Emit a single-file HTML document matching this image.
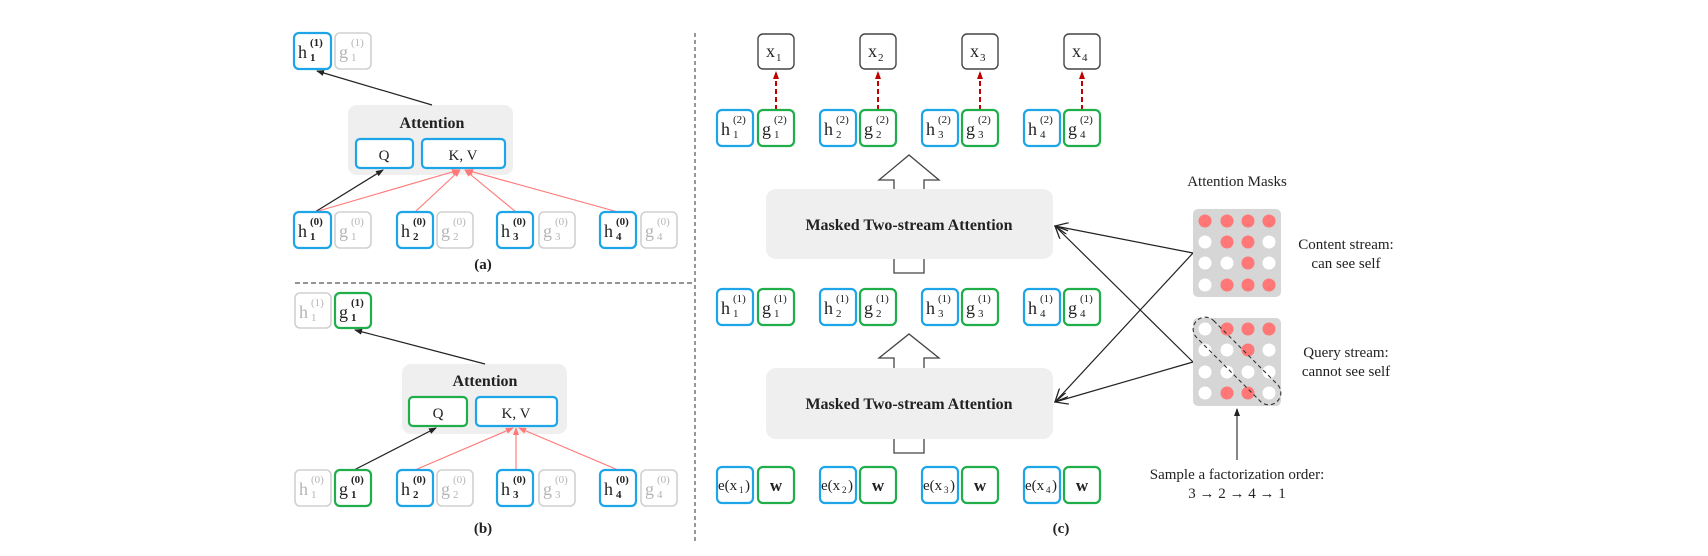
<!DOCTYPE html>
<html><head><meta charset="utf-8"><style>
html,body{margin:0;padding:0;background:#fff;}
svg{display:block;}
text{font-family:"Liberation Serif","DejaVu Serif",serif;fill:#222;}
.b{fill:#fff;stroke:#1ea5e8;stroke-width:2.2;}
.gr{fill:#fff;stroke:#1fae4a;stroke-width:2.2;}
.gy{fill:#fff;stroke:#d0d0d0;stroke-width:1.6;}
.k{fill:#fff;stroke:#444;stroke-width:1.4;}
.m{font-size:18px;}
.s{font-size:11px;}
.g text{fill:#b5b5b5;}
.bold{font-weight:bold;}
</style></head><body>
<svg width="1708" height="556" viewBox="0 0 1708 556" xmlns="http://www.w3.org/2000/svg">
<defs>
<marker id="ak" markerWidth="8" markerHeight="8" refX="7" refY="4" orient="auto" markerUnits="userSpaceOnUse"><path d="M0,1 L8,4 L0,7 z" fill="#222"/></marker>
<marker id="ar" markerWidth="8" markerHeight="8" refX="7" refY="4" orient="auto" markerUnits="userSpaceOnUse"><path d="M0,1 L8,4 L0,7 z" fill="#ff7777"/></marker>
<marker id="ad" markerWidth="8" markerHeight="8" refX="7" refY="4" orient="auto" markerUnits="userSpaceOnUse"><path d="M0,1 L8,4 L0,7 z" fill="#c00000"/></marker>
<marker id="ab" markerWidth="14" markerHeight="12" refX="13" refY="6" orient="auto" markerUnits="userSpaceOnUse"><path d="M0,0 L13,6 L0,12" fill="none" stroke="#222" stroke-width="1.3"/></marker>
</defs>

<!-- dividers -->
<line x1="695" y1="33" x2="695" y2="543" stroke="#777" stroke-width="1.5" stroke-dasharray="4,3"/>
<line x1="295" y1="283" x2="695" y2="283" stroke="#555" stroke-width="1.3" stroke-dasharray="5,3"/>

<!-- ===== Panel (a) ===== -->
<rect x="348" y="105" width="165" height="70" rx="9" fill="#efefef"/>
<text x="432" y="128" text-anchor="middle" font-size="16" class="bold">Attention</text>
<rect x="356" y="139" width="57" height="29" rx="4" class="b"/>
<text x="384" y="160" text-anchor="middle" font-size="15">Q</text>
<rect x="422" y="139" width="83" height="29" rx="4" class="b"/>
<text x="463" y="160" text-anchor="middle" font-size="15">K, V</text>

<line x1="432" y1="105" x2="317" y2="71" stroke="#222" stroke-width="1.2" marker-end="url(#ak)"/>
<line x1="315" y1="212" x2="383" y2="170" stroke="#222" stroke-width="1.2" marker-end="url(#ak)"/>
<line x1="315" y1="212" x2="459" y2="170" stroke="#ff7777" stroke-width="1.1" marker-end="url(#ar)"/>
<line x1="415" y1="212" x2="460" y2="170" stroke="#ff7777" stroke-width="1.1" marker-end="url(#ar)"/>
<line x1="516" y1="212" x2="465" y2="170" stroke="#ff7777" stroke-width="1.1" marker-end="url(#ar)"/>
<line x1="618" y1="212" x2="466" y2="170" stroke="#ff7777" stroke-width="1.1" marker-end="url(#ar)"/>

<!-- top (a) -->
<rect x="294" y="33" width="37" height="36" rx="5" class="b"/>
<text x="298" y="58" class="m">h</text><text x="310" y="46" class="s bold">(1)</text><text x="310" y="61" class="s bold">1</text>
<g class="g"><rect x="335" y="33" width="36" height="36" rx="5" class="gy"/>
<text x="339" y="58" class="m">g</text><text x="351" y="46" class="s">(1)</text><text x="351" y="61" class="s">1</text></g>

<!-- bottom (a) -->
<rect x="294" y="212" width="37" height="36" rx="5" class="b"/>
<text x="298" y="237" class="m">h</text><text x="310" y="225" class="s bold">(0)</text><text x="310" y="240" class="s bold">1</text>
<g class="g"><rect x="335" y="212" width="36" height="36" rx="5" class="gy"/>
<text x="339" y="237" class="m">g</text><text x="351" y="225" class="s">(0)</text><text x="351" y="240" class="s">1</text></g>
<rect x="397" y="212" width="36" height="36" rx="5" class="b"/>
<text x="401" y="237" class="m">h</text><text x="413" y="225" class="s bold">(0)</text><text x="413" y="240" class="s bold">2</text>
<g class="g"><rect x="437" y="212" width="36" height="36" rx="5" class="gy"/>
<text x="441" y="237" class="m">g</text><text x="453" y="225" class="s">(0)</text><text x="453" y="240" class="s">2</text></g>
<rect x="497" y="212" width="36" height="36" rx="5" class="b"/>
<text x="501" y="237" class="m">h</text><text x="513" y="225" class="s bold">(0)</text><text x="513" y="240" class="s bold">3</text>
<g class="g"><rect x="539" y="212" width="36" height="36" rx="5" class="gy"/>
<text x="543" y="237" class="m">g</text><text x="555" y="225" class="s">(0)</text><text x="555" y="240" class="s">3</text></g>
<rect x="600" y="212" width="36" height="36" rx="5" class="b"/>
<text x="604" y="237" class="m">h</text><text x="616" y="225" class="s bold">(0)</text><text x="616" y="240" class="s bold">4</text>
<g class="g"><rect x="641" y="212" width="36" height="36" rx="5" class="gy"/>
<text x="645" y="237" class="m">g</text><text x="657" y="225" class="s">(0)</text><text x="657" y="240" class="s">4</text></g>
<text x="483" y="269" text-anchor="middle" font-size="15" class="bold">(a)</text>

<!-- ===== Panel (b) ===== -->
<rect x="402" y="364" width="165" height="70" rx="9" fill="#efefef"/>
<text x="485" y="386" text-anchor="middle" font-size="16" class="bold">Attention</text>
<rect x="409" y="397" width="58" height="29" rx="4" class="gr"/>
<text x="438" y="418" text-anchor="middle" font-size="15">Q</text>
<rect x="476" y="397" width="81" height="29" rx="4" class="b"/>
<text x="516" y="418" text-anchor="middle" font-size="15">K, V</text>

<line x1="485" y1="364" x2="355" y2="330" stroke="#222" stroke-width="1.2" marker-end="url(#ak)"/>
<line x1="354" y1="470" x2="436" y2="428" stroke="#222" stroke-width="1.2" marker-end="url(#ak)"/>
<line x1="415" y1="470" x2="513" y2="428" stroke="#ff7777" stroke-width="1.1" marker-end="url(#ar)"/>
<line x1="516" y1="470" x2="516" y2="428" stroke="#ff7777" stroke-width="1.1" marker-end="url(#ar)"/>
<line x1="618" y1="470" x2="519" y2="428" stroke="#ff7777" stroke-width="1.1" marker-end="url(#ar)"/>

<g class="g"><rect x="295" y="293" width="36" height="35" rx="5" class="gy"/>
<text x="299" y="318" class="m">h</text><text x="311" y="306" class="s">(1)</text><text x="311" y="321" class="s">1</text></g>
<rect x="335" y="293" width="36" height="35" rx="5" class="gr"/>
<text x="339" y="318" class="m">g</text><text x="351" y="306" class="s bold">(1)</text><text x="351" y="321" class="s bold">1</text>

<g class="g"><rect x="295" y="470" width="36" height="36" rx="5" class="gy"/>
<text x="299" y="495" class="m">h</text><text x="311" y="483" class="s">(0)</text><text x="311" y="498" class="s">1</text></g>
<rect x="335" y="470" width="36" height="36" rx="5" class="gr"/>
<text x="339" y="495" class="m">g</text><text x="351" y="483" class="s bold">(0)</text><text x="351" y="498" class="s bold">1</text>
<rect x="397" y="470" width="36" height="36" rx="5" class="b"/>
<text x="401" y="495" class="m">h</text><text x="413" y="483" class="s bold">(0)</text><text x="413" y="498" class="s bold">2</text>
<g class="g"><rect x="437" y="470" width="36" height="36" rx="5" class="gy"/>
<text x="441" y="495" class="m">g</text><text x="453" y="483" class="s">(0)</text><text x="453" y="498" class="s">2</text></g>
<rect x="497" y="470" width="36" height="36" rx="5" class="b"/>
<text x="501" y="495" class="m">h</text><text x="513" y="483" class="s bold">(0)</text><text x="513" y="498" class="s bold">3</text>
<g class="g"><rect x="539" y="470" width="36" height="36" rx="5" class="gy"/>
<text x="543" y="495" class="m">g</text><text x="555" y="483" class="s">(0)</text><text x="555" y="498" class="s">3</text></g>
<rect x="600" y="470" width="36" height="36" rx="5" class="b"/>
<text x="604" y="495" class="m">h</text><text x="616" y="483" class="s bold">(0)</text><text x="616" y="498" class="s bold">4</text>
<g class="g"><rect x="641" y="470" width="36" height="36" rx="5" class="gy"/>
<text x="645" y="495" class="m">g</text><text x="657" y="483" class="s">(0)</text><text x="657" y="498" class="s">4</text></g>
<text x="483" y="533" text-anchor="middle" font-size="15" class="bold">(b)</text>

<!-- ===== Panel (c) ===== -->
<!-- x boxes -->
<rect x="758" y="34" width="36" height="35" rx="5" class="k"/><text x="766" y="57" class="m">x</text><text x="776" y="61" class="s">1</text>
<rect x="860" y="34" width="36" height="35" rx="5" class="k"/><text x="868" y="57" class="m">x</text><text x="878" y="61" class="s">2</text>
<rect x="962" y="34" width="36" height="35" rx="5" class="k"/><text x="970" y="57" class="m">x</text><text x="980" y="61" class="s">3</text>
<rect x="1064" y="34" width="36" height="35" rx="5" class="k"/><text x="1072" y="57" class="m">x</text><text x="1082" y="61" class="s">4</text>
<g stroke="#c00000" stroke-width="2" stroke-dasharray="5,3">
<line x1="776" y1="110" x2="776" y2="72" marker-end="url(#ad)"/>
<line x1="878" y1="110" x2="878" y2="72" marker-end="url(#ad)"/>
<line x1="980" y1="110" x2="980" y2="72" marker-end="url(#ad)"/>
<line x1="1082" y1="110" x2="1082" y2="72" marker-end="url(#ad)"/>
</g>

<!-- (2) row -->
<rect x="717" y="110" width="36" height="36" rx="5" class="b"/><text x="721" y="135" class="m">h</text><text x="733" y="123" class="s">(2)</text><text x="733" y="138" class="s">1</text>
<rect x="758" y="110" width="36" height="36" rx="5" class="gr"/><text x="762" y="135" class="m">g</text><text x="774" y="123" class="s">(2)</text><text x="774" y="138" class="s">1</text>
<rect x="820" y="110" width="36" height="36" rx="5" class="b"/><text x="824" y="135" class="m">h</text><text x="836" y="123" class="s">(2)</text><text x="836" y="138" class="s">2</text>
<rect x="860" y="110" width="36" height="36" rx="5" class="gr"/><text x="864" y="135" class="m">g</text><text x="876" y="123" class="s">(2)</text><text x="876" y="138" class="s">2</text>
<rect x="922" y="110" width="36" height="36" rx="5" class="b"/><text x="926" y="135" class="m">h</text><text x="938" y="123" class="s">(2)</text><text x="938" y="138" class="s">3</text>
<rect x="962" y="110" width="36" height="36" rx="5" class="gr"/><text x="966" y="135" class="m">g</text><text x="978" y="123" class="s">(2)</text><text x="978" y="138" class="s">3</text>
<rect x="1024" y="110" width="36" height="36" rx="5" class="b"/><text x="1028" y="135" class="m">h</text><text x="1040" y="123" class="s">(2)</text><text x="1040" y="138" class="s">4</text>
<rect x="1064" y="110" width="36" height="36" rx="5" class="gr"/><text x="1068" y="135" class="m">g</text><text x="1080" y="123" class="s">(2)</text><text x="1080" y="138" class="s">4</text>

<!-- block arrow 1 -->
<path d="M894,273 L894,180 L879,180 L909,155 L939,180 L924,180 L924,273 Z" fill="#fff" stroke="#444" stroke-width="1.3"/>
<rect x="766" y="189" width="287" height="70" rx="10" fill="#efefef"/>
<text x="909" y="230" text-anchor="middle" font-size="16" class="bold">Masked Two-stream Attention</text>

<!-- (1) row -->
<rect x="717" y="289" width="36" height="36" rx="5" class="b"/><text x="721" y="314" class="m">h</text><text x="733" y="302" class="s">(1)</text><text x="733" y="317" class="s">1</text>
<rect x="758" y="289" width="36" height="36" rx="5" class="gr"/><text x="762" y="314" class="m">g</text><text x="774" y="302" class="s">(1)</text><text x="774" y="317" class="s">1</text>
<rect x="820" y="289" width="36" height="36" rx="5" class="b"/><text x="824" y="314" class="m">h</text><text x="836" y="302" class="s">(1)</text><text x="836" y="317" class="s">2</text>
<rect x="860" y="289" width="36" height="36" rx="5" class="gr"/><text x="864" y="314" class="m">g</text><text x="876" y="302" class="s">(1)</text><text x="876" y="317" class="s">2</text>
<rect x="922" y="289" width="36" height="36" rx="5" class="b"/><text x="926" y="314" class="m">h</text><text x="938" y="302" class="s">(1)</text><text x="938" y="317" class="s">3</text>
<rect x="962" y="289" width="36" height="36" rx="5" class="gr"/><text x="966" y="314" class="m">g</text><text x="978" y="302" class="s">(1)</text><text x="978" y="317" class="s">3</text>
<rect x="1024" y="289" width="36" height="36" rx="5" class="b"/><text x="1028" y="314" class="m">h</text><text x="1040" y="302" class="s">(1)</text><text x="1040" y="317" class="s">4</text>
<rect x="1064" y="289" width="36" height="36" rx="5" class="gr"/><text x="1068" y="314" class="m">g</text><text x="1080" y="302" class="s">(1)</text><text x="1080" y="317" class="s">4</text>

<!-- block arrow 2 -->
<path d="M894,453 L894,358 L879,358 L909,334 L939,358 L924,358 L924,453 Z" fill="#fff" stroke="#444" stroke-width="1.3"/>
<rect x="766" y="368" width="287" height="71" rx="10" fill="#efefef"/>
<text x="909" y="409" text-anchor="middle" font-size="16" class="bold">Masked Two-stream Attention</text>

<!-- e row -->
<rect x="717" y="467" width="36" height="36" rx="5" class="b"/><text x="718" y="490" font-size="15">e(x</text><text x="739" y="493" font-size="9">1</text><text x="745" y="490" font-size="15">)</text>
<rect x="758" y="467" width="36" height="36" rx="5" class="gr"/><text x="776" y="491" text-anchor="middle" font-size="17" class="bold">w</text>
<rect x="820" y="467" width="36" height="36" rx="5" class="b"/><text x="821" y="490" font-size="15">e(x</text><text x="842" y="493" font-size="9">2</text><text x="848" y="490" font-size="15">)</text>
<rect x="860" y="467" width="36" height="36" rx="5" class="gr"/><text x="878" y="491" text-anchor="middle" font-size="17" class="bold">w</text>
<rect x="922" y="467" width="36" height="36" rx="5" class="b"/><text x="923" y="490" font-size="15">e(x</text><text x="944" y="493" font-size="9">3</text><text x="950" y="490" font-size="15">)</text>
<rect x="962" y="467" width="36" height="36" rx="5" class="gr"/><text x="980" y="491" text-anchor="middle" font-size="17" class="bold">w</text>
<rect x="1024" y="467" width="36" height="36" rx="5" class="b"/><text x="1025" y="490" font-size="15">e(x</text><text x="1046" y="493" font-size="9">4</text><text x="1052" y="490" font-size="15">)</text>
<rect x="1064" y="467" width="36" height="36" rx="5" class="gr"/><text x="1082" y="491" text-anchor="middle" font-size="17" class="bold">w</text>
<text x="1061" y="533" text-anchor="middle" font-size="15" class="bold">(c)</text>

<!-- connector lines from masks -->
<g stroke="#222" stroke-width="1.2" fill="none">
<line x1="1193" y1="253" x2="1055" y2="226" marker-end="url(#ab)"/>
<line x1="1193" y1="253" x2="1055" y2="402" marker-end="url(#ab)"/>
<line x1="1193" y1="362" x2="1055" y2="226" marker-end="url(#ab)"/>
<line x1="1193" y1="362" x2="1055" y2="402" marker-end="url(#ab)"/>
</g>

<!-- masks -->
<text x="1237" y="186" text-anchor="middle" font-size="15">Attention Masks</text>
<rect x="1193" y="209" width="88" height="88" rx="5" fill="#d6d6d6"/>
<g>
<circle cx="1205" cy="221" r="6.5" fill="#ff7777"/><circle cx="1227" cy="221" r="6.5" fill="#ff7777"/><circle cx="1248" cy="221" r="6.5" fill="#ff7777"/><circle cx="1269" cy="221" r="6.5" fill="#ff7777"/>
<circle cx="1205" cy="242" r="6.5" fill="#fff"/><circle cx="1227" cy="242" r="6.5" fill="#ff7777"/><circle cx="1248" cy="242" r="6.5" fill="#ff7777"/><circle cx="1269" cy="242" r="6.5" fill="#fff"/>
<circle cx="1205" cy="263" r="6.5" fill="#fff"/><circle cx="1227" cy="263" r="6.5" fill="#fff"/><circle cx="1248" cy="263" r="6.5" fill="#ff7777"/><circle cx="1269" cy="263" r="6.5" fill="#fff"/>
<circle cx="1205" cy="285" r="6.5" fill="#fff"/><circle cx="1227" cy="285" r="6.5" fill="#ff7777"/><circle cx="1248" cy="285" r="6.5" fill="#ff7777"/><circle cx="1269" cy="285" r="6.5" fill="#ff7777"/>
</g>
<rect x="1193" y="318" width="88" height="88" rx="5" fill="#d6d6d6"/>
<g>
<circle cx="1205" cy="329" r="6.5" fill="#fff"/><circle cx="1227" cy="329" r="6.5" fill="#ff7777"/><circle cx="1248" cy="329" r="6.5" fill="#ff7777"/><circle cx="1269" cy="329" r="6.5" fill="#ff7777"/>
<circle cx="1205" cy="350" r="6.5" fill="#fff"/><circle cx="1227" cy="350" r="6.5" fill="#fff"/><circle cx="1248" cy="350" r="6.5" fill="#ff7777"/><circle cx="1269" cy="350" r="6.5" fill="#fff"/>
<circle cx="1205" cy="372" r="6.5" fill="#fff"/><circle cx="1227" cy="372" r="6.5" fill="#fff"/><circle cx="1248" cy="372" r="6.5" fill="#fff"/><circle cx="1269" cy="372" r="6.5" fill="#fff"/>
<circle cx="1205" cy="393" r="6.5" fill="#fff"/><circle cx="1227" cy="393" r="6.5" fill="#ff7777"/><circle cx="1248" cy="393" r="6.5" fill="#ff7777"/><circle cx="1269" cy="393" r="6.5" fill="#fff"/>
</g>
<rect x="1180" y="349" width="114" height="24" rx="12" fill="none" stroke="#333" stroke-width="1.1" stroke-dasharray="4,3" transform="rotate(45 1237 361)"/>

<text x="1346" y="249" text-anchor="middle" font-size="15">Content stream:</text>
<text x="1346" y="268" text-anchor="middle" font-size="15">can see self</text>
<text x="1346" y="357" text-anchor="middle" font-size="15">Query stream:</text>
<text x="1346" y="376" text-anchor="middle" font-size="15">cannot see self</text>

<line x1="1237" y1="460" x2="1237" y2="409" stroke="#444" stroke-width="1.3" marker-end="url(#ak)"/>
<text x="1237" y="479" text-anchor="middle" font-size="15">Sample a factorization order:</text>
<text x="1237" y="498" text-anchor="middle" font-size="15">3 → 2 → 4 → 1</text>
</svg>
</body></html>
